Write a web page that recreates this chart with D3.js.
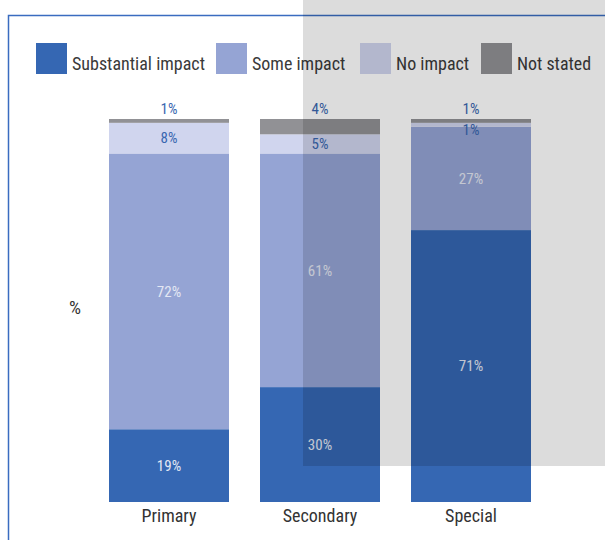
<!DOCTYPE html>
<html>
<head>
<meta charset="utf-8">
<script src="https://cdn.jsdelivr.net/npm/d3@7"></script>
<style>
  html, body { margin: 0; padding: 0; background: #fff; }
  svg { display: block; }
  text { font-family: "Liberation Sans Narrow", "Roboto Condensed", "DejaVu Sans Condensed", "Arial Narrow", sans-serif; font-stretch: condensed; }
</style>
</head>
<body>
<svg id="chart" width="605" height="540"></svg>
<script>
const categories = ["Primary", "Secondary", "Special"];
const seriesNames = ["Substantial impact", "Some impact", "No impact", "Not stated"];
const substantial = [19, 30, 71];
const some = [72, 61, 27];
const none = [8, 5, 1];
const notStated = [1, 4, 1];
const colors = ["#3567b3", "#95a4d4", "#d0d5ee", "#919195"];
const labelColors = ["#e3e7f3", "#e3e7f3", "#3a67b0", "#3a67b0"];

const svg = d3.select("#chart");
const W = 605, H = 540;

// frame (top + left border)
svg.append("path")
  .attr("d", `M8.5,${H + 5} V15.5 H${W + 5}`)
  .attr("fill", "none")
  .attr("stroke", "#3a6cc0")
  .attr("stroke-width", 1.5);

const rows = categories.map((c, i) => ({
  cat: c,
  "Substantial impact": substantial[i],
  "Some impact": some[i],
  "No impact": none[i],
  "Not stated": notStated[i]
}));
const stacked = d3.stack().keys(seriesNames)(rows);

const x = d3.scaleBand().domain(categories).range([93.5, 546.5])
  .paddingInner(31 / 151).paddingOuter(0.5 * 31 / 151);
const y = d3.scaleLinear().domain([0, 100]).range([502, 119]);

const g = svg.append("g");
stacked.forEach((s, si) => {
  g.selectAll(null).data(s).enter().append("rect")
    .attr("x", d => x(d.data.cat))
    .attr("width", x.bandwidth())
    .attr("y", d => y(d[1]))
    .attr("height", d => y(d[0]) - y(d[1]))
    .attr("fill", colors[si]);
});

stacked.forEach((s, si) => {
  g.selectAll(null).data(s).enter().append("text")
    .attr("x", d => x(d.data.cat) + x.bandwidth() / 2)
    .attr("y", d => {
      const top = y(d[1]), bot = y(d[0]);
      if (si === 3) return top - 10;
      return Math.max((top + bot) / 2, top + 7);
    })
    .attr("dy", "0.35em")
    .attr("text-anchor", "middle")
    .attr("font-size", 15)
    .attr("fill", labelColors[si])
    .text(d => (d[1] - d[0]) + "%");
});

const xAxis = d3.axisBottom(x).tickSize(0).tickPadding(7);
const ax = svg.append("g").attr("transform", "translate(0,502)").call(xAxis);
ax.select(".domain").remove();
ax.selectAll("text").attr("font-size", 18).attr("fill", "#333")
  .style("font-family", null);

svg.append("text").attr("x", 75).attr("y", 307).attr("dy", "0.35em")
  .attr("text-anchor", "middle").attr("font-size", 19).attr("fill", "#333").text("%");

// legend
const legendX = d3.scalePoint().domain(seriesNames).range([36, 481]);
const legendPos = [36, 216, 360, 481];
seriesNames.forEach((name, i) => {
  const lx = legendPos[i];
  svg.append("rect").attr("x", lx).attr("y", 43).attr("width", 31).attr("height", 31)
    .attr("fill", colors[i]);
  const t = svg.append("text").attr("x", lx + 36).attr("y", 70)
    .attr("font-size", 18).attr("fill", "#3a3a3a").text(name);
  const avail = (i < 3 ? legendPos[i + 1] - 8 : W - 14) - (lx + 36);
  const len = t.node().getComputedTextLength();
  if (len > avail) t.attr("textLength", avail).attr("lengthAdjust", "spacingAndGlyphs");
});

// grey overlay
svg.append("rect").attr("x", 303).attr("y", 0).attr("width", W - 303).attr("height", 466)
  .attr("fill", "#000").attr("fill-opacity", 0.137);
</script>
</body>
</html>
